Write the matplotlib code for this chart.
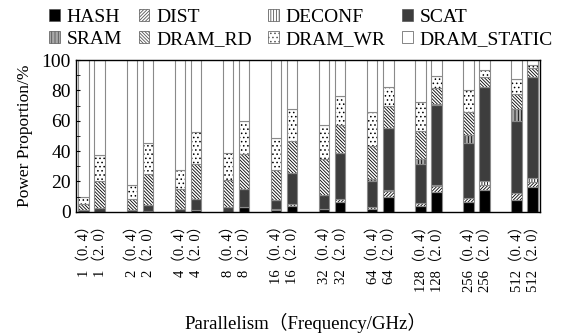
import numpy as np
import matplotlib
matplotlib.use('Agg')
import matplotlib.pyplot as plt
from matplotlib.patches import Patch
from matplotlib.ticker import MultipleLocator

plt.rcParams['font.family'] = ['Liberation Serif', 'Noto Sans CJK SC']
plt.rcParams['hatch.linewidth'] = 0.6

# ── Data (percent of total power) ────────────────────────────────────────────
parallelism = ['1', '2', '4', '8', '16', '32', '64', '128', '256', '512']
frequencies = ['0. 4', '2. 0']

hash_p    = [0, 0, 0, 0.5, 0, 1, 0, 3, 1, 4, 1.5, 6.5, 1.5, 10, 4, 13, 6.4, 14.5, 8, 16]
dist_p    = [0, 0, 0, 0, 0, 0, 0, 0, 0.5, 1, 0.5, 2, 1.5, 3.5, 2, 4, 2.6, 3, 4.5, 3.5]
deconf_p  = [0, 0, 0, 0, 0, 0, 0, 0, 0, 0, 0, 0, 0, 0.5, 0, 0.5, 0, 2.5, 0, 2.5]
scat_p    = [1, 2.5, 1, 4, 2, 7.5, 3, 12, 6, 20.5, 9, 30.5, 17, 41.5, 25.5, 53, 36, 62, 47, 67]
sram_p    = [0, 0, 0, 0, 0, 0, 0, 0, 0, 0, 0, 0, 1.5, 0, 3.3, 0.5, 5.5, 0, 8, 0]
dram_rd   = [4, 17.5, 7.5, 20.5, 13, 23, 18, 23, 20, 21, 24, 18, 22, 14.5, 18.5, 10.5, 15.5, 7, 10, 5.5]
dram_wr   = [5, 17.5, 9, 20, 12.5, 21, 17.5, 22, 21, 21.5, 22, 19, 22, 12.5, 19, 8, 14.5, 4.4, 10, 2.5]
dram_stat = [90, 62.5, 82.5, 55, 72.5, 47.5, 61.5, 40, 51.5, 32, 43, 24, 34.5, 17.5,
             27.7, 10.5, 19.5, 6.6, 12.5, 3]

series = [
    ('HASH',        hash_p,    'black',   ''),
    ('DIST',        dist_p,    'white',   '/' * 10),
    ('DECONF',      deconf_p,  'white',   '|' * 6),
    ('SCAT',        scat_p,    '#3d3d3d', ''),
    ('SRAM',        sram_p,    '#a8a8a8', '|' * 5),
    ('DRAM_RD',     dram_rd,   'white',   '\\' * 10),
    ('DRAM_WR',     dram_wr,   'white',   '....'),
    ('DRAM_STATIC', dram_stat, 'white',   ''),
]

labels = [f'{p}（{f}）' for p in parallelism for f in frequencies]
x = np.array([3 * i + j for i in range(len(parallelism)) for j in range(2)])
width = 0.66

fig = plt.figure(figsize=(5.63, 3.36), dpi=100)
ax = fig.add_axes([0.1345, 0.370, 0.8255, 0.4514])

bottom = np.zeros(len(x))
handles = []
for name, vals, face, hatch in series:
    vals = np.array(vals, dtype=float)
    # filled / hatched layer (hatch drawn in black)
    ax.bar(x, vals, width, bottom=bottom, color=face, hatch=hatch,
           edgecolor='black', linewidth=0)
    # thin gray outline of each segment
    ax.bar(x, vals, width, bottom=bottom, fill=False,
           edgecolor='#8a8a8a', linewidth=0.8)
    bottom += vals
    handles.append(Patch(facecolor=face, hatch=hatch, edgecolor='#555555',
                         linewidth=0.5, label=name))

ax.set_xlim(-0.5, 28.5)
ax.set_ylim(0, 100)
ax.yaxis.set_major_locator(MultipleLocator(20))
ax.yaxis.set_minor_locator(MultipleLocator(10))
ax.tick_params(axis='y', which='both', direction='in', length=3,
               labelsize=14, right=False)
ax.tick_params(axis='x', length=0, pad=5, labelsize=10.5)
ax.set_xticks(x)
ax.set_xticklabels(labels, rotation=90)
for s in ax.spines.values():
    s.set_linewidth(1.0)

ax.set_ylabel('Power Proportion/%', fontsize=12.5, labelpad=6)
fig.text(0.543, 0.04, 'Parallelism（Frequency/GHz）', ha='center',
         va='center', fontsize=13.5)

# legend fills column-wise, so interleave to read row-wise
order = [0, 4, 1, 5, 2, 6, 3, 7]
fig.legend(handles=[handles[i] for i in order], ncol=4, loc='upper left',
           bbox_to_anchor=(0.070, 1.002), frameon=False, fontsize=14,
           handlelength=0.55, handleheight=0.55, handletextpad=0.35,
           columnspacing=0.85, labelspacing=0.25, borderpad=0.0)

fig.savefig('out.png', dpi=100)
